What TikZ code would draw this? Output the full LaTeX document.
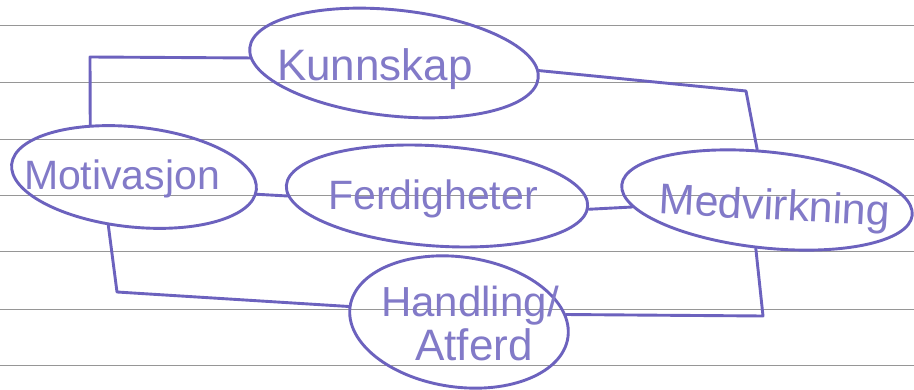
\documentclass[tikz,border=0pt]{standalone}
\usepackage{fontspec}
\setmainfont{Liberation Sans}
\usetikzlibrary{shapes.geometric}
\definecolor{ink}{RGB}{108,98,190}
\definecolor{rulecol}{RGB}{150,150,150}
\begin{document}
\begin{tikzpicture}[x=1pt,y=-1pt,
  bubble/.style={draw=ink, line width=2.9pt, ellipse, inner sep=0pt},
  word/.style={text=ink!85, anchor=base, inner sep=0pt},
  link/.style={draw=ink, line width=2.9pt, line join=round, line cap=round},
  ruled/.style={draw=rulecol, line width=0.9pt}]
\fill[white] (0,0) rectangle (914,390);
\useasboundingbox (0,0) rectangle (914,390);
\foreach \yy in {25,82,139,195,251,309,365} \draw[ruled] (0,\yy) -- (914,\yy);

% bubbles
\node[bubble, minimum width=290pt, minimum height=106pt, rotate=-6] (K) at (394,63) {};
\node[bubble, minimum width=246pt, minimum height=100pt, rotate=-6] (M) at (134,177) {};
\node[bubble, minimum width=302pt, minimum height=100pt, rotate=-4] (F) at (437,196) {};
\node[bubble, minimum width=292pt, minimum height=96pt, rotate=-6] (W) at (767,200) {};
\node[bubble, minimum width=220pt, minimum height=130pt, rotate=-8] (H) at (459,322) {};

% words
\node[word, font=\fontsize{44}{50}\selectfont] (tK) at (375,81) {Kunnskap};
\node[word, font=\fontsize{41}{48}\selectfont] (tM) at (122,190) {Motivasjon};
\node[word, font=\fontsize{41}{48}\selectfont] (tF) at (433,210) {Ferdigheter};
\node[word, font=\fontsize{43}{50}\selectfont, rotate=-3] (tW) at (774,220) {Medvirkning};
\node[word, font=\fontsize{42}{48}\selectfont] (tH1) at (470,317) {Handling/};
\node[word, font=\fontsize{44}{50}\selectfont] (tH2) at (474,360) {Atferd};

% corners
\coordinate (c1) at (90,57);
\coordinate (c2) at (746,91);
\coordinate (c3) at (117,292);
\coordinate (c4) at (763,316);

% connectors
\draw[link] (K.184) -- (c1) -- (M.136);
\draw[link] (K.3) -- (c2) -- (W.107);
\draw[link] (M.-2) -- (F.184);
\draw[link] (F.-1) -- (W);
\draw[link] (M.248) -- (c3) -- (H.180);
\draw[link] (W.263) -- (c4) -- (H.12);
\end{tikzpicture}
\end{document}
